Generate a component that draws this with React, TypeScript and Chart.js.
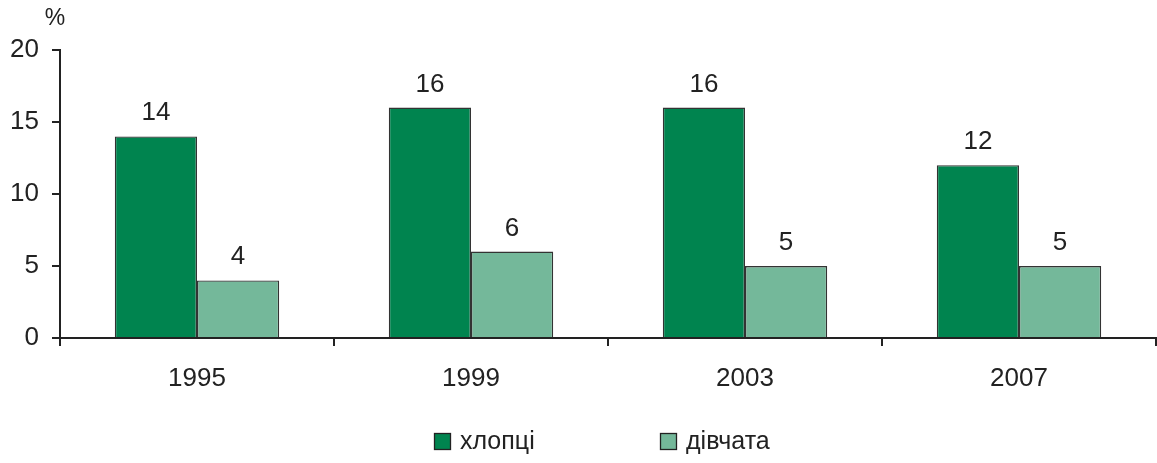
import React, { useEffect, useRef } from "react";
import { Chart, registerables } from "chart.js";

Chart.register(...registerables);

const categories = ["1995", "1999", "2003", "2007"];
const boys = [14, 16, 16, 12];
const girls = [4, 6, 5, 5];
const seriesNames = ["хлопці", "дівчата"];
const colors = ["#00844F", "#74B89A"];
const yTicks = [0, 5, 10, 15, 20];

const FONT = "'Liberation Sans', Arial, sans-serif";

const labelsPlugin = {
  id: "customDecor",
  afterDatasetsDraw(chart: any) {
    const ctx = chart.ctx;
    ctx.save();
    ctx.fillStyle = "#222";
    ctx.font = `26px ${FONT}`;
    ctx.textAlign = "center";
    ctx.textBaseline = "alphabetic";
    chart.data.datasets.forEach((ds: any, i: number) => {
      const meta = chart.getDatasetMeta(i);
      meta.data.forEach((bar: any, j: number) => {
        ctx.fillText(String(ds.data[j]), bar.x, bar.y - 16);
      });
    });
    // % unit label
    ctx.font = `23px ${FONT}`;
    ctx.textAlign = "center";
    ctx.textBaseline = "middle";
    ctx.fillText("%", 55, 19);
    // legend
    const legendX = [434, 660];
    const legendY = 441;
    chart.data.datasets.forEach((ds: any, i: number) => {
      const x = legendX[i];
      ctx.fillStyle = ds.backgroundColor;
      ctx.fillRect(x, legendY - 8, 17, 17);
      ctx.strokeStyle = "#222";
      ctx.lineWidth = 1.3;
      ctx.strokeRect(x + 0.5, legendY - 7.5, 16, 16);
      ctx.fillStyle = "#222";
      ctx.font = `25px ${FONT}`;
      ctx.textAlign = "left";
      ctx.textBaseline = "middle";
      ctx.fillText(ds.label, x + 26, legendY + 1);
    });
    ctx.restore();
  },
};

export default function App() {
  const ref = useRef<HTMLCanvasElement>(null);
  useEffect(() => {
    if (!ref.current) return;
    const chart = new Chart(ref.current, {
      type: "bar",
      data: {
        labels: categories,
        datasets: [
          {
            label: seriesNames[0],
            data: boys,
            backgroundColor: colors[0],
            borderColor: "#333",
            borderWidth: 1.4,
            categoryPercentage: 0.6,
            barPercentage: 1.0,
          },
          {
            label: seriesNames[1],
            data: girls,
            backgroundColor: colors[1],
            borderColor: "#333",
            borderWidth: 1.4,
            categoryPercentage: 0.6,
            barPercentage: 1.0,
          },
        ],
      },
      options: {
        animation: false,
        responsive: false,
        maintainAspectRatio: false,
        layout: { padding: { top: 50, right: 1, left: 0, bottom: 0 } },
        plugins: {
          legend: { display: false },
          tooltip: { enabled: false },
        },
        scales: {
          x: {
            grid: {
              offset: true,
              drawOnChartArea: false,
              drawTicks: true,
              tickLength: 8,
              color: "#222",
              lineWidth: 2,
            },
            border: { display: true, color: "#222", width: 2 },
            ticks: {
              color: "#222",
              font: { family: FONT, size: 26 },
              padding: 17,
            },
            afterFit(scale: any) {
              scale.height = 125;
            },
          },
          y: {
            min: 0,
            max: 20,
            afterBuildTicks(scale: any) {
              scale.ticks = yTicks.map((v) => ({ value: v }));
            },
            grid: {
              drawOnChartArea: false,
              drawTicks: true,
              tickLength: 8,
              color: "#222",
              lineWidth: 2,
            },
            border: { display: true, color: "#222", width: 2 },
            ticks: {
              color: "#222",
              font: { family: FONT, size: 26 },
              padding: 13,
            },
            afterFit(scale: any) {
              scale.width = 60;
            },
          },
        },
      },
      plugins: [labelsPlugin],
    });
    return () => chart.destroy();
  }, []);
  return (
    <div style={{ position: "fixed", left: 0, top: 0, width: 1157, height: 463, background: "#fff" }}>
      <canvas ref={ref} width={1157} height={463} style={{ width: 1157, height: 463 }} />
    </div>
  );
}
